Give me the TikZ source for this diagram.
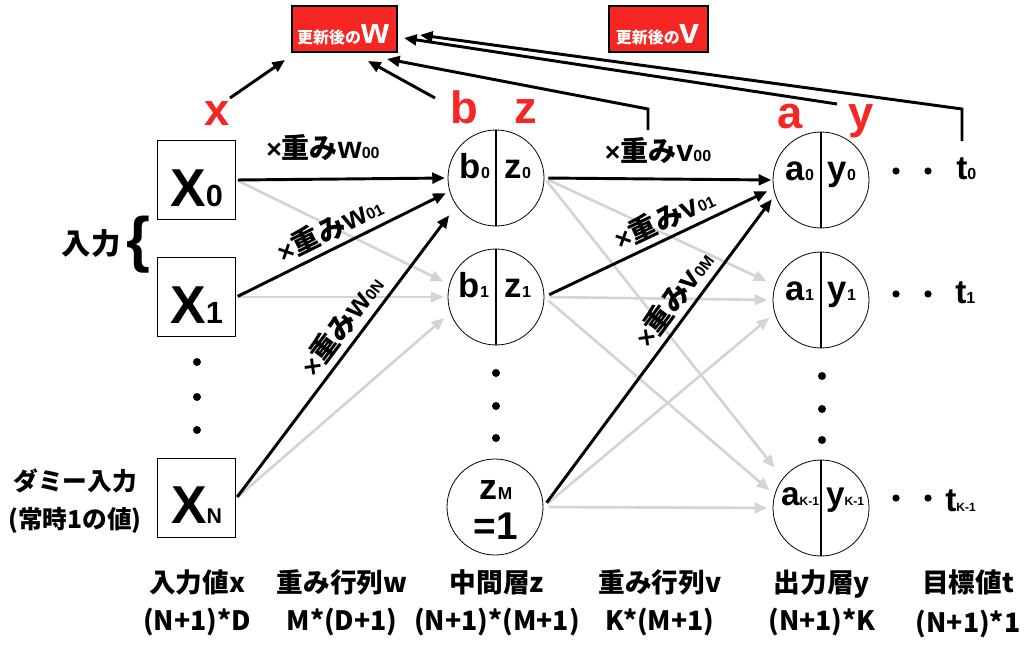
\documentclass[tikz,border=0pt]{standalone}
\usepackage{fontspec}
\newfontfamily\cjk{Noto Sans CJK JP}
\newfontfamily\lat{Liberation Sans}
\usetikzlibrary{arrows.meta,calc}
\definecolor{redc}{RGB}{246,38,34}
\definecolor{lgray}{RGB}{212,212,212}
\newcommand\fs[1]{\fontsize{#1}{#1}\selectfont}
\newcommand\BS[4]{{\fs{#1}\lat\bfseries #3}{\fs{#2}\lat #4}}
\newcommand\WL[2]{{\fs{20}\lat\bfseries ×}{\fs{21}\cjk\bfseries 重み}{\fs{23}\lat\bfseries #1}{\fs{12}\lat #2}}
\tikzset{
  blk/.style={line width=2.2pt,-{Triangle[length=9.5pt,width=8pt]}},
  gry/.style={draw=lgray,line width=2pt,-{Triangle[length=9.5pt,width=8pt,fill=lgray]}},
  neuron/.style={circle,draw,line width=0.6pt,minimum size=72pt,inner sep=0pt},
  divider/.style={line width=1.8pt},
  xbox/.style={draw,line width=0.9pt,minimum size=59pt,inner sep=0pt},
  redbox/.style={fill=redc,draw=black,line width=0.9pt,minimum height=34.5pt,inner sep=0pt},
  redlbl/.style={text=redc,anchor=base,font=\fs{34}\lat\bfseries},
  lab/.style={anchor=base,font=\fs{20}\cjk\bfseries},
  wlab/.style={inner sep=0pt},
  dot/.style={fill=black},
}
\begin{document}
\begin{tikzpicture}[x=0.75pt,y=-0.75pt,font=\cjk\bfseries]
\useasboundingbox (0,0) rectangle (1027,646);

% red boxes
\node[redbox,minimum width=78.75pt] (W) at (344.5,29) {};
\node[anchor=base,text=white] (Wt) at (343,43) {{\fs{12}\cjk\bfseries 更新後の}{\fs{27}\lat\bfseries w}};
\node[redbox,minimum width=74.25pt] (V) at (658.5,29) {};
\node[anchor=base,text=white] (Vt) at (658,43) {{\fs{12}\cjk\bfseries 更新後の}{\fs{27}\lat\bfseries v}};

% red letters
\node[redlbl] (rx) at (217,125) {x};
\node[redlbl] (rb) at (464,123) {b};
\node[redlbl] (rz) at (526,123) {z};
\node[redlbl] (ra) at (790,128) {a};
\node[redlbl] (ry) at (861,128) {y};

% input boxes
\node[xbox] (X0) at (196.5,180) {};
\node[xbox] (X1) at (196.5,297) {};
\node[xbox] (XN) at (196.5,498) {};
\node[anchor=base] (X0t) at (196.5,206) {\BS{40}{23}{X}{0}};
\node[anchor=base] (X1t) at (196.5,323) {\BS{40}{23}{X}{1}};
\node[anchor=base] (XNt) at (196.5,523) {\BS{40}{16}{X}{N}};

% neurons
\node[neuron] (n0) at (496,178) {};
\node[neuron] (n1) at (496,297) {};
\node[neuron] (nM) at (495,507) {};
\node[neuron] (o0) at (821,180) {};
\node[neuron] (o1) at (821,300) {};
\node[neuron] (oK) at (821,508) {};
\foreach \n in {n0,n1,o0,o1,oK}{\draw[divider] (\n.north) -- (\n.south);}

\node[anchor=base] (b0t) at (475,178) {\BS{26}{12}{b}{0}};
\node[anchor=base] (z0t) at (518,178) {\BS{26}{12}{z}{0}};
\node[anchor=base] (b1t) at (474,297) {\BS{26}{12}{b}{1}};
\node[anchor=base] (z1t) at (518,297) {\BS{26}{12}{z}{1}};
\node[anchor=base] (zMt) at (496,499) {\BS{27}{13}{z}{M}};
\node[anchor=base] (eq1) at (496,539) {\BS{29}{11}{=1}{}};
\node[anchor=base] (a0t) at (800,180) {\BS{26}{12}{a}{0}};
\node[anchor=base] (y0t) at (842,180) {\BS{26}{12}{y}{0}};
\node[anchor=base] (a1t) at (800,300) {\BS{26}{12}{a}{1}};
\node[anchor=base] (y1t) at (842,300) {\BS{26}{12}{y}{1}};
\node[anchor=base] (aKt) at (800,505) {\BS{25}{9}{a}{K-1}};
\node[anchor=base] (yKt) at (845,505) {\BS{25}{9}{y}{K-1}};

% targets
\node[anchor=base west,inner sep=0pt] (t0) at (956,179) {\BS{25}{12}{t}{0}};
\node[anchor=base west,inner sep=0pt] (t1) at (955,303) {\BS{25}{12}{t}{1}};
\node[anchor=base west,inner sep=0pt] (tK) at (945,511) {\BS{25}{9}{t}{K-1}};
\foreach \yy in {171,294,498}{\fill[dot] (896,\yy) circle (3.6); \fill[dot] (928,\yy) circle (3.6);}

% vertical dots
\foreach \yy in {362,397,430}{\fill[dot] (197,\yy) circle (4);}
\foreach \yy in {373,406,438}{\fill[dot] (496,\yy) circle (4);}
\foreach \yy in {376,409,440}{\fill[dot] (822,\yy) circle (4);}

% gray connectors
\draw[gry,shorten <=1pt,shorten >=5pt] (X0.east) -- (n1.165);
\draw[gry,shorten <=1pt,shorten >=3pt] (X1.east) -- (n1.west);
\draw[gry,shorten <=1pt,shorten >=6pt] (XN.east) -- (n1.199);
\draw[gry,shorten <=3pt,shorten >=7pt] (n0.east) -- (o1.162);
\draw[gry,shorten <=4pt,shorten >=4pt] (n1.east) -- (o1.west);
\draw[gry,shorten <=4pt,shorten >=5pt] (nM.east) -- (o1.196);
\draw[gry,shorten <=3pt,shorten >=10pt] (n0.east) -- (oK.142);
\draw[gry,shorten <=4pt,shorten >=5pt] (n1.east) -- (oK.164);
\draw[gry,shorten <=4pt,shorten >=4pt] (nM.east) -- (oK.west);

% black connectors
\draw[blk,shorten <=1pt,shorten >=2pt] (X0.east) -- (n0.west);
\draw[blk,shorten <=1pt,shorten >=3pt] (X1.east) -- (n0.196)
  node[wlab,pos=0.48,sloped,above=4pt] (w01) {\WL{w}{01}};
\draw[blk,shorten <=1pt,shorten >=9pt] (XN.east) -- (n0.215)
  node[wlab,pos=0.55,sloped,above=4pt] (w0N) {\WL{w}{0N}};
\draw[blk,shorten <=3pt,shorten >=1pt] (n0.east) -- (o0.west);
\draw[blk,shorten <=4pt,shorten >=5pt] (n1.east) -- (o0.190)
  node[wlab,pos=0.56,sloped,above=4pt] (v01) {\WL{v}{01}};
\draw[blk,shorten <=4pt,shorten >=4pt] (nM.east) -- (o0.198)
  node[wlab,pos=0.63,sloped,above=4pt] (v0M) {\WL{v}{0M}};
\node[anchor=base,wlab] (w00) at (323,158) {\WL{w}{00}};
\node[anchor=base,wlab] (v00) at (658,161) {\WL{v}{00}};

% update arrows
\coordinate (xs) at (230,98); \coordinate (xe) at (285,60);
\coordinate (bs) at (435,98); \coordinate (be) at (368,61);
\coordinate (zs) at (648,130); \coordinate (zk) at (648,109); \coordinate (ze) at (387,59);
\coordinate (ys) at (837,104); \coordinate (ye) at (404,38);
\coordinate (ts) at (962,141); \coordinate (tk) at (962,109); \coordinate (te) at (420,35);
\draw[blk] (xs) -- (xe);
\draw[blk] (bs) -- (be);
\draw[blk] (zs) -- (zk) -- (ze);
\draw[blk] (ys) -- (ye);
\draw[blk] (ts) -- (tk) -- (te);

% left labels
\node[anchor=base,font=\fs{22}\cjk\bfseries] (inp) at (91,254) {入力};
\node (brace) at (138,245) {\fs{46}\lat\bfseries\{};
\node[anchor=base,font=\fs{18.5}\cjk\bfseries] (dm1) at (75,490) {ダミー入力};
\node[anchor=base,font=\fs{18.5}\cjk\bfseries] (dm2) at (75,528) {(常時1の値)};

% bottom labels
\node[lab] (L1a) at (197,592) {入力値x};
\node[lab] (L1b) at (197,630) {(N+1)*D};
\node[lab] (L2a) at (342,592) {重み行列w};
\node[lab] (L2b) at (342,630) {M*(D+1)};
\node[lab] (L3a) at (497,592) {中間層z};
\node[lab] (L3b) at (497,630) {(N+1)*(M+1)};
\node[lab] (L4a) at (660,592) {重み行列v};
\node[lab] (L4b) at (660,630) {K*(M+1)};
\node[lab] (L5a) at (822,592) {出力層y};
\node[lab] (L5b) at (822,630) {(N+1)*K};
\node[lab] (L6a) at (968,592) {目標値t};
\node[lab] (L6b) at (968,632) {(N+1)*1};
\end{tikzpicture}
\end{document}
